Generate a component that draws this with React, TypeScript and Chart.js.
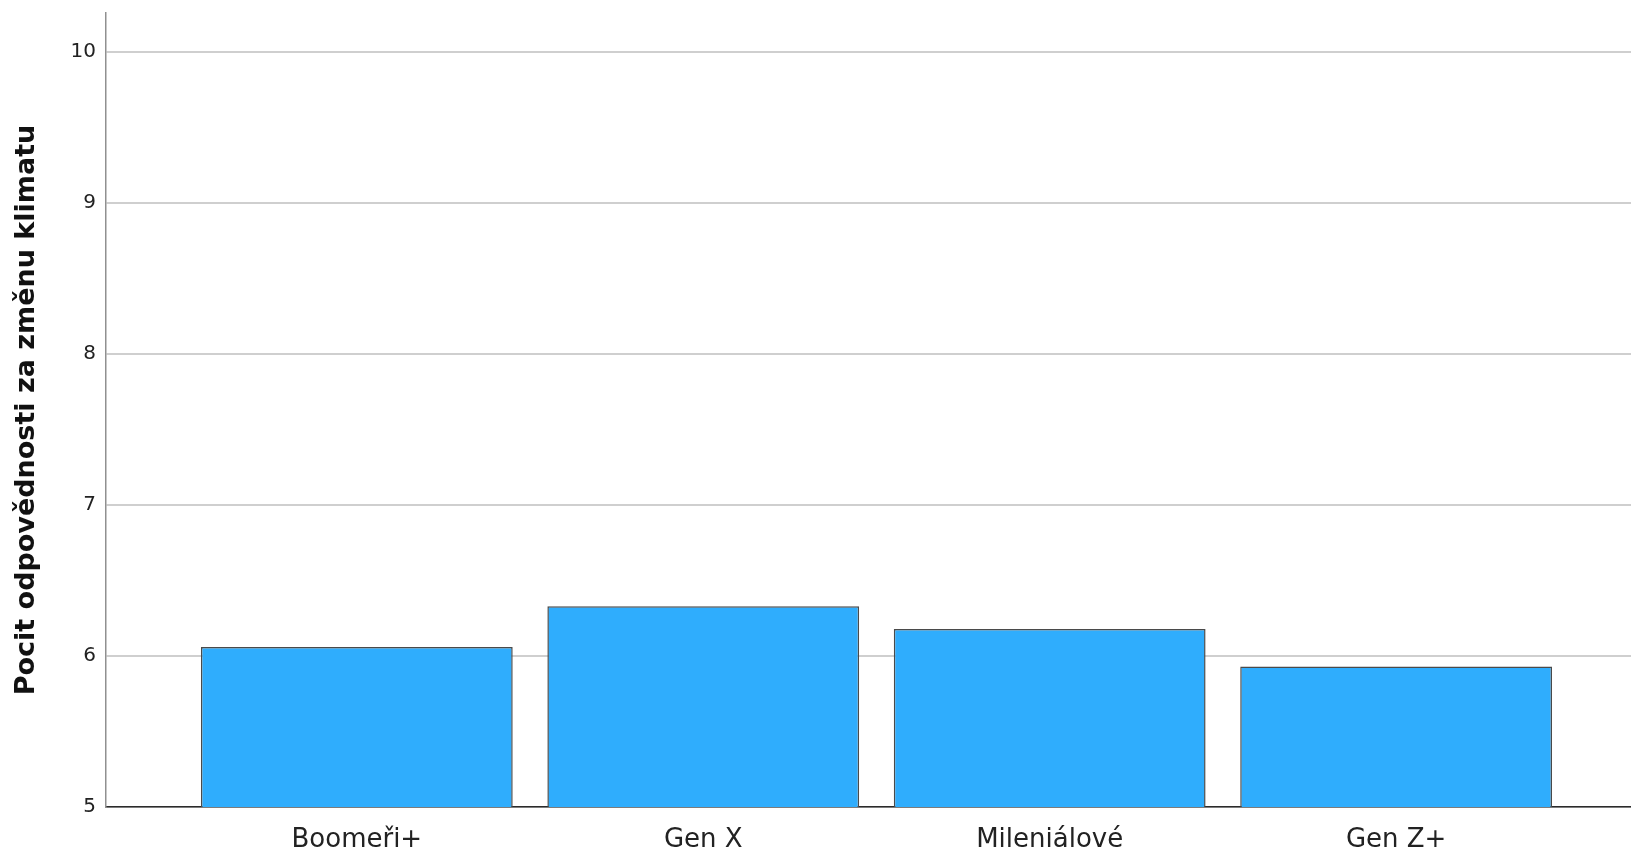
import React, { useEffect, useRef } from "react";
import { Chart, registerables } from "chart.js";

Chart.register(...registerables);

const categories = ["Boomeři+", "Gen X", "Mileniálové", "Gen Z+"];
const values = [6.06, 6.33, 6.18, 5.93];
const yTicks = [5, 6, 7, 8, 9, 10];
const yTitle = "Pocit odpovědnosti za změnu klimatu";

const W = 1631;
const H = 854;

export default function App() {
  const ref = useRef<HTMLCanvasElement | null>(null);

  useEffect(() => {
    if (!ref.current) return;
    const chart = new Chart(ref.current, {
      type: "bar",
      data: {
        datasets: [
          {
            data: values.map((v, i) => ({ x: i, y: v })),
            backgroundColor: "#2fadfd",
            borderColor: "#4a4a4a",
            borderWidth: 1.5,
            barPercentage: 0.9,
            categoryPercentage: 1.0,
          },
        ],
      },
      options: {
        animation: false,
        responsive: false,
        devicePixelRatio: 1,
        layout: { padding: { top: 13, right: 0, bottom: 0, left: 0 } },
        plugins: { legend: { display: false }, tooltip: { enabled: false } },
        scales: {
          x: {
            type: "linear",
            offset: false,
            min: -0.724,
            max: 3.678,
            afterBuildTicks: (s: any) => {
              s.ticks = categories.map((_, i) => ({ value: i }));
            },
            afterFit: (s: any) => {
              s.height = 47;
              s.paddingLeft = 0;
              s.paddingRight = 0;
            },
            grid: { display: false, drawTicks: false, offset: false },
            border: { display: true, color: "#2b2b2b", width: 1.5 },
            ticks: {
              autoSkip: false,
              maxRotation: 0,
              padding: 18,
              color: "#222222",
              font: { family: "DejaVu Sans", size: 26 },
              callback: (v: any) => categories[Math.round(Number(v))] ?? "",
            },
          },
          y: {
            type: "linear",
            min: 5,
            max: 10.26,
            afterBuildTicks: (s: any) => {
              s.ticks = yTicks.map((v) => ({ value: v }));
            },
            afterFit: (s: any) => {
              s.width = 106;
              s.paddingTop = 0;
              s.paddingBottom = 0;
            },
            grid: {
              color: "#cfcfcf",
              lineWidth: 2,
              drawTicks: false,
            },
            border: { display: true, color: "#909090", width: 1.5 },
            ticks: {
              padding: 10,
              color: "#222222",
              font: { family: "DejaVu Sans", size: 20 },
              callback: (v: any) => String(v),
            },
            title: {
              display: true,
              text: yTitle,
              color: "#111111",
              padding: { top: 11, bottom: 4 },
              font: { family: "DejaVu Sans", size: 27, weight: "bold" },
            },
          },
        },
      },
    });
    return () => chart.destroy();
  }, []);

  return (
    <div style={{ position: "absolute", left: 0, top: 0, width: W, height: H, background: "#ffffff" }}>
      <canvas ref={ref} width={W} height={H} style={{ display: "block" }} />
    </div>
  );
}
